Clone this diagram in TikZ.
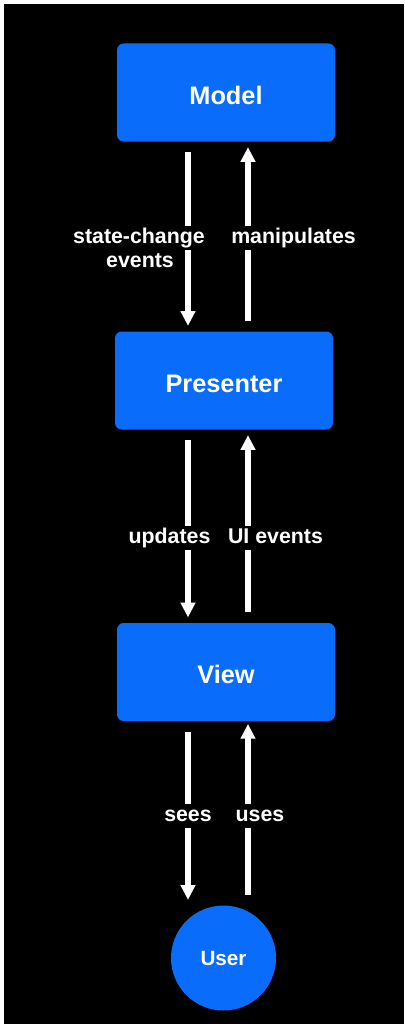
\documentclass[tikz,border=0pt]{standalone}
\usepackage{fontspec}
\setmainfont{Liberation Sans}
\usetikzlibrary{arrows.meta, positioning}
\definecolor{mvpblue}{RGB}{10,108,250}

\begin{document}
\begin{tikzpicture}[x=0.75pt, y=-0.75pt,
    box/.style={fill=mvpblue, rounded corners=5pt, minimum width=163.5pt, minimum height=73.5pt,
        text=white, text height=17.5pt, text depth=0pt, font=\bfseries\fontsize{19}{22}\selectfont},
    flow/.style={draw=white, line width=4.5pt, -{Triangle[length=11pt, width=10.5pt]},
        shorten <=8pt, shorten >=4pt},
    lbl/.style={fill=black, text=white, inner xsep=1pt, inner ysep=1pt, text height=12pt,
        text depth=3.5pt, font=\bfseries\fontsize{16}{19}\selectfont}]
    \useasboundingbox (0,0) rectangle (404,1024);
    \fill[white] (0,0) rectangle (404,1024);
    \fill[black] (4,4) rectangle (404,1024);
    \node[box] (model) at (226,92.5) {Model};
    \node[box] (presenter) at (224,380.5) {Presenter};
    \node[box] (view) at (226,672) {View};
    \node[circle, fill=mvpblue, minimum size=78.75pt, text=white,
        font=\bfseries\fontsize{15.5}{18}\selectfont] (user) at (223.5,958) {User};
    \coordinate (dn) at (188,0);
    \coordinate (up) at (248,0);
    \draw[flow] (model.south -| dn) -- (presenter.north -| dn);
    \draw[flow] (presenter.north -| up) -- (model.south -| up);
    \draw[flow] (presenter.south -| dn) -- (view.north -| dn);
    \draw[flow] (view.north -| up) -- (presenter.south -| up);
    \draw[flow] (view.south -| dn) -- (user.north -| dn);
    \draw[flow, shorten >=2pt] (user.north -| up) -- (view.south -| up);
    \node[lbl] (sc) at (139,238) {state-change};
    \node[lbl] (ev) at (140,262) {events};
    \node[lbl] (manip) at (293.5,238) {manipulates};
    \node[lbl] (upd) at (169.5,538) {updates};
    \node[lbl] (uiev) at (275.5,538) {UI events};
    \node[lbl] (sees) at (188,816) {sees};
    \node[lbl] (uses) at (260,816) {uses};
\end{tikzpicture}
\end{document}
